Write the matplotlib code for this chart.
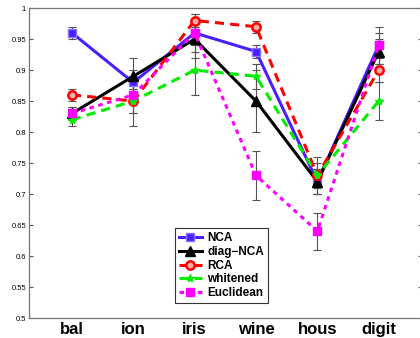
import numpy as np
import matplotlib.pyplot as plt

plt.rcParams['font.family'] = ['Liberation Sans', 'DejaVu Sans']

datasets = ['bal', 'ion', 'iris', 'wine', 'hous', 'digit']
nca = [0.96, 0.88, 0.96, 0.93, 0.72, 0.94]
nca_err = [0.01, 0.02, 0.02, 0.01, 0.02, 0.03]
diag_nca = [0.83, 0.89, 0.95, 0.85, 0.72, 0.93]
diag_nca_err = [0.01, 0.03, 0.03, 0.05, 0.02, 0.02]
rca = [0.86, 0.85, 0.98, 0.97, 0.73, 0.90]
rca_err = [0.01, 0.02, 0.01, 0.01, 0.02, 0.02]
whitened = [0.82, 0.85, 0.90, 0.89, 0.73, 0.85]
whitened_err = [0.01, 0.04, 0.04, 0.02, 0.03, 0.03]
euclid = [0.83, 0.86, 0.96, 0.73, 0.64, 0.94]
euclid_err = [0.01, 0.03, 0.03, 0.04, 0.03, 0.02]

fig = plt.figure(figsize=(4.2, 3.38), dpi=100)
ax = fig.add_axes([0.069, 0.059, 0.935, 0.917])

x = np.arange(1, len(datasets) + 1)
ecol = '#555555'

series = [
    (nca, nca_err, 'NCA', dict(color='#4a1eff', ls='-', marker='s', ms=6, mfc='#4a1eff', mec='#8a70ff')),
    (diag_nca, diag_nca_err, 'diag\u2212NCA', dict(color='black', ls='-', marker='^', ms=7)),
    (rca, rca_err, 'RCA', dict(color='red', ls=(0, (3, 2)), marker='o', ms=6, mfc='#ffaaaa', mew=1.8)),
    (whitened, whitened_err, 'whitened', dict(color='#00ee00', ls=(0, (3, 2)), marker='*', ms=6)),
    (euclid, euclid_err, 'Euclidean', dict(color='magenta', ls=(0, (1.5, 1.5)), marker='s', ms=6)),
]

for vals, err, lab, st in series:
    ax.errorbar(x, vals, yerr=err, fmt='none', ecolor=ecol, elinewidth=0.8, capsize=3, capthick=0.8, zorder=1)
for vals, err, lab, st in series:
    ax.plot(x, vals, lw=2.2, label=lab, zorder=2, **st)

ax.set_xlim(0.3, 6.7)
ax.set_ylim(0.5, 1.0)
ax.set_yticks(np.arange(0.5, 1.001, 0.05))
ax.set_yticklabels(['0.5', '0.55', '0.6', '0.65', '0.7', '0.75', '0.8', '0.85', '0.9', '0.95', '1'])
ax.set_xticks(x)
ax.set_xticklabels(datasets, fontsize=12, fontweight='bold')
ax.tick_params(axis='y', direction='in', labelsize=5.5, length=3, color=ecol, right=True, pad=2)
ax.tick_params(axis='x', length=0, pad=3)
for s in ax.spines.values():
    s.set_color('#777777')
    s.set_linewidth(0.9)

leg = ax.legend(loc='upper left', bbox_to_anchor=(175 / 420, 1 - 228 / 338), bbox_transform=fig.transFigure,
                borderaxespad=0, fancybox=False, framealpha=1, edgecolor='#333333',
                prop={'size': 8.5, 'weight': 'bold'}, handlelength=1.9, labelspacing=0.15,
                borderpad=0.35, handletextpad=0.5)
leg.get_frame().set_linewidth(0.8)

fig.savefig('out.png', dpi=100)
